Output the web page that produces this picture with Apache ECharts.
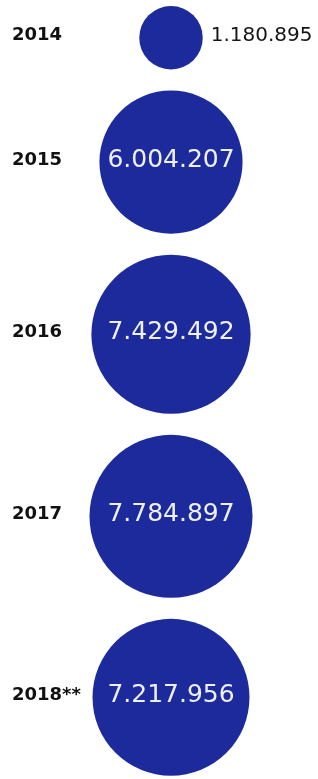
<!DOCTYPE html>
<html><head><meta charset="utf-8">
<script src="https://cdn.jsdelivr.net/npm/echarts@6/dist/echarts.min.js"></script>
<style>html,body{margin:0;padding:0;background:#fff}#c{width:318px;height:779px}</style>
</head><body><div id="c"></div>
<script>
// ---- data ----
const years = ['2014', '2015', '2016', '2017', '2018**'];
const visitors = [1180895, 6004207, 7429492, 7784897, 7217956];

// ---- layout (circles stacked top-to-bottom, area proportional to value) ----
const MAX_D = 163, TOP = 6, GAP = 21, CHART_H = 779;
const maxV = Math.max(...visitors);
const radii = visitors.map(v => Math.sqrt(v / maxV) * MAX_D / 2);
const centers = [];
let cur = TOP;
radii.forEach((r, i) => { if (i > 0) cur += GAP; centers.push(cur + r); cur += 2 * r; });

function fmt(n) { return String(n).replace(/\B(?=(\d{3})+(?!\d))/g, '.'); }

const circleData = visitors.map((v, i) => {
  const small = radii[i] < 50;
  return {
    value: [0, centers[i]],
    symbolSize: radii[i] * 2,
    label: small
      ? { position: 'right', distance: 8, fontSize: 20, color: '#151515' }
      : { position: 'inside', fontSize: 25, color: '#eef1fa' }
  };
});
const yearData = years.map((y, i) => ({ value: [0, centers[i]], name: y }));

const chart = echarts.init(document.getElementById('c'), null, { renderer: 'canvas' });
chart.setOption({
  backgroundColor: '#ffffff',
  animation: false,
  grid: { left: 24, right: 0, top: 0, bottom: 0 },
  xAxis: { type: 'category', data: ['col'], show: false },
  yAxis: { type: 'value', min: 0, max: CHART_H, inverse: true, show: false },
  series: [
    {
      type: 'scatter',
      data: circleData,
      itemStyle: { color: '#1d2a9c', opacity: 1 },
      label: {
        show: true,
        fontFamily: 'DejaVu Sans',
        offset: [0, -2],
        formatter: p => fmt(visitors[p.dataIndex])
      },
      z: 2
    },
    {
      type: 'scatter',
      data: yearData,
      symbolSize: 0,
      itemStyle: { color: '#111111', opacity: 1 },
      label: {
        show: true,
        position: 'inside',
        align: 'left',
        offset: [-159, -2],
        fontFamily: 'DejaVu Sans',
        fontWeight: 'bold',
        fontSize: 18,
        color: '#111111',
        opacity: 1,
        textBorderWidth: 0,
        formatter: p => years[p.dataIndex]
      },
      z: 3
    }
  ]
});
</script></body></html>
